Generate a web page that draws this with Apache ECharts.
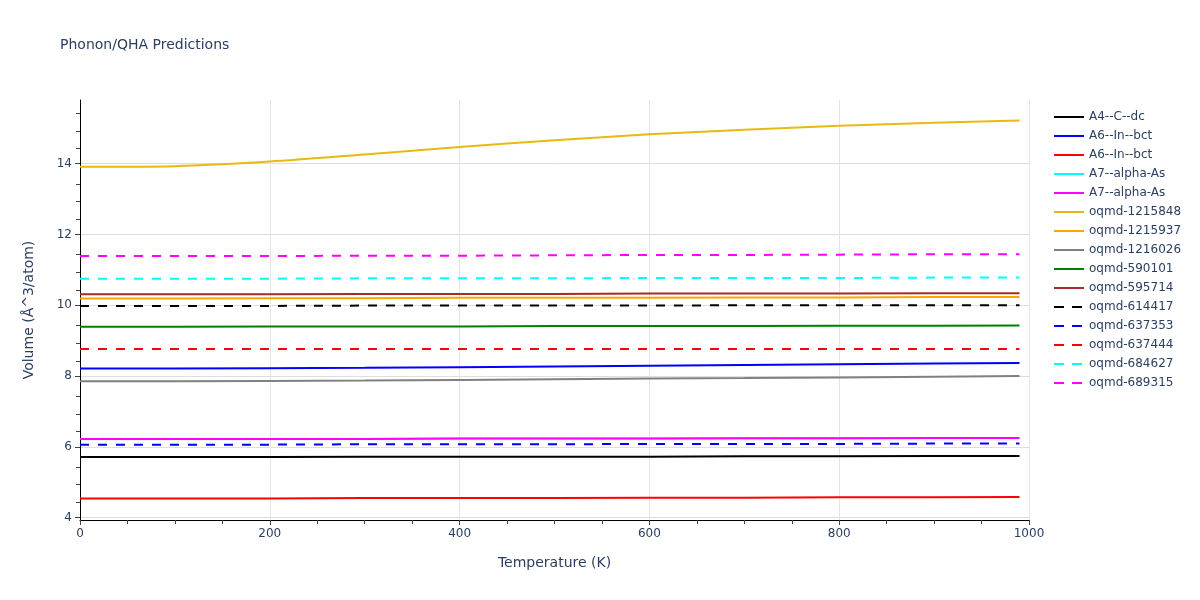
<!DOCTYPE html>
<html>
<head>
<meta charset="utf-8">
<script src="https://cdn.jsdelivr.net/npm/echarts@6/dist/echarts.min.js"></script>
<style>html,body{margin:0;padding:0;background:#fff}#c{width:1200px;height:600px}</style>
</head>
<body>
<div id="c"></div>
<script>
// Temperatures (K)
const temperatures = [0, 100, 200, 300, 400, 500, 600, 700, 800, 900, 990];

// Series names as shown in the legend
const seriesNames = [
  'A4--C--dc', 'A6--In--bct', 'A6--In--bct', 'A7--alpha-As', 'A7--alpha-As',
  'oqmd-1215848', 'oqmd-1215937', 'oqmd-1216026', 'oqmd-590101', 'oqmd-595714',
  'oqmd-614417', 'oqmd-637353', 'oqmd-637444', 'oqmd-684627', 'oqmd-689315'
];

// Volume values (Å^3/atom)
const vA4_C_dc       = [5.71, 5.71, 5.71, 5.72, 5.72, 5.72, 5.72, 5.73, 5.73, 5.74, 5.74];
const vA6_In_bct_1   = [8.21, 8.21, 8.22, 8.23, 8.25, 8.27, 8.29, 8.31, 8.33, 8.35, 8.37];
const vA6_In_bct_2   = [4.54, 4.54, 4.54, 4.55, 4.55, 4.55, 4.56, 4.56, 4.57, 4.57, 4.58];
const vA7_alphaAs_1  = [6.22, 6.22, 6.22, 6.22, 6.23, 6.23, 6.23, 6.24, 6.24, 6.25, 6.25];
const vA7_alphaAs_2  = [6.22, 6.22, 6.22, 6.22, 6.23, 6.23, 6.23, 6.24, 6.24, 6.25, 6.25];
const v1215848       = [13.91, 13.93, 14.06, 14.26, 14.47, 14.66, 14.83, 14.96, 15.07, 15.16, 15.22];
const v1215937       = [10.19, 10.19, 10.20, 10.20, 10.21, 10.21, 10.21, 10.22, 10.22, 10.23, 10.23];
const v1216026       = [7.85, 7.85, 7.86, 7.87, 7.89, 7.91, 7.93, 7.94, 7.96, 7.98, 8.00];
const v590101        = [9.39, 9.39, 9.40, 9.40, 9.40, 9.41, 9.41, 9.41, 9.42, 9.42, 9.43];
const v595714        = [10.31, 10.31, 10.31, 10.32, 10.32, 10.32, 10.33, 10.33, 10.33, 10.34, 10.34];
const v614417        = [9.98, 9.98, 9.98, 9.99, 9.99, 9.99, 9.99, 10.00, 10.00, 10.00, 10.00];
const v637353        = [6.06, 6.06, 6.06, 6.07, 6.07, 6.07, 6.08, 6.08, 6.08, 6.09, 6.09];
const v637444        = [8.76, 8.76, 8.76, 8.76, 8.76, 8.76, 8.76, 8.76, 8.76, 8.76, 8.76];
const v684627        = [10.75, 10.75, 10.75, 10.76, 10.76, 10.76, 10.77, 10.77, 10.77, 10.78, 10.78];
const v689315        = [11.39, 11.39, 11.39, 11.40, 11.40, 11.41, 11.42, 11.42, 11.43, 11.44, 11.44];

const seriesValues = [
  vA4_C_dc, vA6_In_bct_1, vA6_In_bct_2, vA7_alphaAs_1, vA7_alphaAs_2,
  v1215848, v1215937, v1216026, v590101, v595714,
  v614417, v637353, v637444, v684627, v689315
];
const seriesColors = [
  '#000000', '#0000ff', '#ff0000', '#00ffff', '#ff00ff',
  '#e8b911', '#ffa500', '#808080', '#008000', '#a52a2a',
  '#000000', '#0000ff', '#ff0000', '#00ffff', '#ff00ff'
];
const seriesDashed = [false, false, false, false, false, false, false, false, false, false,
  true, true, true, true, true];

// y-axis tick labels
const yTickValues = [4, 6, 8, 10, 12, 14];

const textColor = '#2a3f5f';
const font = '"DejaVu Sans", Verdana, sans-serif';

const solidIcon = 'path://M0,0h30v2h-30z';
const dashIcon = 'path://M0,0h10v2h-10zM18,0h10v2h-10zM29.9,0h0.1v0.01h-0.1z';

const series = seriesNames.map((name, i) => ({
  name: name + '#' + i,
  type: 'line',
  data: temperatures.map((t, j) => [t, seriesValues[i][j]]),
  showSymbol: false,
  symbol: 'none',
  smooth: i === 5 ? 0.3 : false,
  color: seriesColors[i],
  lineStyle: { width: 2, color: seriesColors[i], type: seriesDashed[i] ? [9, 9] : 'solid' },
  itemStyle: { color: seriesColors[i] },
  animation: false,
  z: 2 + i
}));

const chart = echarts.init(document.getElementById('c'), null, { renderer: 'canvas' });
chart.setOption({
  backgroundColor: '#fff',
  animation: false,
  title: {
    text: 'Phonon/QHA Predictions',
    left: 60, top: 38, padding: 0,
    textStyle: { fontFamily: font, fontSize: 14, fontWeight: 'normal', color: textColor }
  },
  legend: {
    orient: 'vertical',
    left: 1049, top: 106,
    itemWidth: 30, itemHeight: 2, itemGap: 7,
    formatter: n => n.split('#')[0],
    textStyle: { fontFamily: font, fontSize: 12, color: textColor },
    data: series.map((s, i) => ({ name: s.name, icon: seriesDashed[i] ? dashIcon : solidIcon,
      itemStyle: { color: seriesColors[i] } }))
  },
  grid: { left: 80, right: 171, top: 100, bottom: 80, containLabel: false },
  xAxis: {
    type: 'value',
    min: 0, max: 1000, interval: 200,
    name: 'Temperature (K)',
    nameLocation: 'middle', nameGap: 36,
    nameTextStyle: { fontFamily: font, fontSize: 14, color: textColor },
    axisLine: { show: true, onZero: false, lineStyle: { color: '#000', width: 1 } },
    axisTick: { show: true, length: 5, lineStyle: { color: '#444' } },
    minorTick: { show: true, splitNumber: 4, length: 4, lineStyle: { color: '#444' } },
    axisLabel: { fontFamily: font, fontSize: 12, color: textColor, margin: 8, formatter: v => String(v) },
    splitLine: { show: true, lineStyle: { color: '#e5e5e5', width: 1 } }
  },
  yAxis: {
    type: 'value',
    min: 3.93, max: 15.8, interval: 2,
    name: 'Volume (Å^3/atom)',
    nameLocation: 'middle', nameGap: 44,
    nameTextStyle: { fontFamily: font, fontSize: 14, color: textColor },
    axisLine: { show: true, onZero: false, lineStyle: { color: '#000', width: 1 } },
    axisTick: { show: true, length: 5, customValues: yTickValues, lineStyle: { color: '#444' } },
    minorTick: { show: true, splitNumber: 4, length: 4, lineStyle: { color: '#444' } },
    axisLabel: { fontFamily: font, fontSize: 12, color: textColor, margin: 8, customValues: yTickValues },
    splitLine: { show: true, lineStyle: { color: '#dedede', width: 1 } }
  },
  series: series
});
</script>
</body>
</html>
